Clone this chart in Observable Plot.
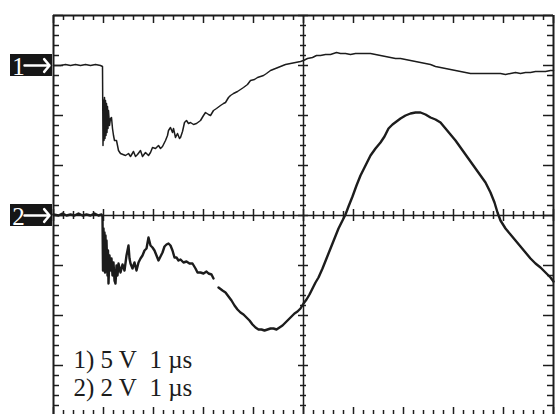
<!DOCTYPE html>
<html>
<head>
<meta charset="utf-8">
<script src="https://cdn.jsdelivr.net/npm/d3@7"></script>
<script src="https://cdn.jsdelivr.net/npm/@observablehq/plot@0.6"></script>
<style>
  html, body { margin: 0; padding: 0; background: #fff; }
  #chart svg { display: block; }
</style>
</head>
<body>
<div id="chart"></div>
<script>
// ---- Data (time in µs, voltage in V relative to each channel's ground) ----
const ch1Time = [0.00,0.14,0.24,0.34,0.44,0.54,0.64,0.74,0.84,0.94,0.98,0.99,1.00,1.01,1.02,1.03,1.04,1.05,1.06,1.07,1.08,1.09,1.10,1.12,1.14,1.16,1.18,1.20,1.22,1.26,1.30,1.34,1.44,1.50,1.54,1.60,1.64,1.68,1.74,1.78,1.84,1.90,1.94,1.98,2.04,2.10,2.14,2.18,2.24,2.28,2.30,2.34,2.38,2.40,2.44,2.48,2.52,2.54,2.58,2.62,2.66,2.70,2.74,2.80,2.86,2.94,3.00,3.04,3.10,3.14,3.20,3.26,3.34,3.40,3.44,3.50,3.54,3.60,3.68,3.74,3.80,3.88,3.94,4.02,4.08,4.14,4.20,4.26,4.34,4.44,4.54,4.64,4.74,4.84,4.94,5.00,5.08,5.18,5.26,5.34,5.44,5.54,5.60,5.66,5.74,5.84,5.94,6.04,6.14,6.24,6.34,6.44,6.54,6.64,6.74,6.84,6.94,7.04,7.14,7.24,7.34,7.44,7.54,7.64,7.74,7.84,7.94,8.04,8.14,8.24,8.34,8.54,8.74,8.94,9.04,9.14,9.24,9.34,9.44,9.54,9.64,9.74,9.84,9.94,10.00];
const ch1Volts = [0.0,0.0,0.1,0.0,0.1,0.0,0.1,0.0,0.1,0.0,-0.1,-8.0,-3.5,-7.5,-3.2,-7.3,-3.5,-7.0,-3.8,-6.7,-4.1,-6.3,-4.5,-6.0,-5.3,-5.2,-6.3,-7.0,-7.5,-7.5,-8.5,-8.8,-9.0,-8.8,-9.1,-8.6,-9.1,-8.9,-8.5,-9.1,-8.7,-9.0,-8.7,-8.2,-8.3,-8.0,-8.3,-8.1,-7.5,-7.0,-6.5,-6.2,-6.7,-6.3,-7.2,-6.8,-7.3,-7.2,-6.6,-5.7,-5.5,-5.8,-5.7,-5.9,-5.8,-5.5,-5.0,-4.7,-4.9,-5.0,-4.5,-4.3,-4.0,-3.8,-3.7,-3.2,-3.0,-2.8,-2.6,-2.4,-2.2,-1.9,-1.5,-1.4,-1.2,-1.1,-1.0,-0.8,-0.5,-0.3,-0.1,0.1,0.2,0.3,0.4,0.5,0.7,0.8,1.0,1.0,1.1,1.1,1.2,1.3,1.2,1.2,1.1,1.2,1.2,1.2,1.2,1.1,1.0,0.9,0.8,0.7,0.7,0.6,0.5,0.4,0.3,0.2,0.1,-0.1,-0.2,-0.3,-0.4,-0.5,-0.6,-0.7,-0.8,-0.8,-0.8,-0.8,-0.9,-0.8,-0.7,-0.8,-0.7,-0.7,-0.6,-0.6,-0.6,-0.5,-0.5];

const ch2Time = [0.00,0.10,0.18,0.26,0.34,0.42,0.50,0.58,0.66,0.74,0.82,0.90,0.96,0.98,0.99,1.00,1.01,1.02,1.03,1.04,1.05,1.06,1.08,1.09,1.10,1.12,1.14,1.16,1.18,1.20,1.22,1.24,1.26,1.28,1.30,1.34,1.38,1.42,1.46,1.48,1.50,1.52,1.54,1.58,1.62,1.66,1.70,1.74,1.78,1.82,1.86,1.90,1.94,1.98,2.02,2.06,2.10,2.14,2.18,2.22,2.26,2.30,2.34,2.38,2.42,2.46,2.50,2.54,2.60,2.66,2.72,2.78,2.84,2.88,2.94,3.00,3.06,3.10,3.16,3.20,3.25,3.30,3.38,3.44,3.50,3.56,3.62,3.68,3.74,3.80,3.86,3.92,3.98,4.04,4.10,4.16,4.22,4.28,4.34,4.40,4.46,4.52,4.58,4.64,4.70,4.76,4.82,4.88,4.94,5.00,5.06,5.12,5.18,5.24,5.30,5.38,5.46,5.54,5.62,5.70,5.78,5.84,5.90,5.98,6.06,6.14,6.24,6.34,6.44,6.54,6.62,6.70,6.78,6.86,6.94,7.04,7.14,7.24,7.34,7.44,7.54,7.64,7.74,7.84,7.94,8.04,8.14,8.24,8.34,8.44,8.54,8.64,8.74,8.82,8.88,8.94,9.04,9.14,9.24,9.34,9.44,9.54,9.64,9.74,9.84,9.94,10.00];
const ch2Volts = [0.04,0.00,0.08,0.00,0.04,0.00,0.08,0.00,0.04,0.00,0.08,0.00,0.04,-0.04,-2.20,-0.52,-2.12,-0.68,-2.28,-0.80,-2.20,-1.00,-2.40,-1.40,-2.72,-1.60,-2.20,-1.72,-2.40,-1.88,-2.60,-2.72,-2.00,-2.40,-1.92,-2.28,-1.96,-2.20,-1.60,-1.40,-1.20,-1.72,-1.92,-2.12,-1.88,-2.20,-1.88,-1.72,-1.60,-1.40,-1.32,-0.88,-1.20,-1.28,-1.40,-1.60,-1.80,-1.64,-1.48,-1.24,-1.16,-1.12,-1.20,-1.40,-1.68,-1.68,-1.80,-1.76,-1.88,-1.84,-1.92,-1.92,-2.12,-2.28,-2.28,-2.32,-2.24,-2.32,-2.36,-2.52,null,-2.88,-3.00,-3.08,-3.24,-3.40,-3.60,-3.76,-3.88,-3.96,-4.08,-4.20,-4.36,-4.48,-4.56,-4.56,-4.60,-4.56,-4.52,-4.52,-4.56,-4.48,-4.40,-4.28,-4.16,-4.04,-3.92,-3.84,-3.72,-3.52,-3.36,-3.16,-2.92,-2.68,-2.48,-2.12,-1.72,-1.32,-0.92,-0.52,-0.20,0.04,0.36,0.76,1.20,1.60,2.00,2.40,2.68,2.92,3.16,3.48,3.64,3.76,3.88,4.00,4.08,4.12,4.12,4.04,3.92,3.84,3.72,3.48,3.24,3.00,2.72,2.44,2.16,1.88,1.60,1.32,0.92,0.52,0.12,-0.20,-0.52,-0.76,-1.00,-1.24,-1.48,-1.72,-1.92,-2.08,-2.28,-2.48,-2.64];

const channelNames = ["1", "2"];
const voltsPerDiv = [5, 2];
const groundDiv = [3, 0];      // ground marker level in screen divisions from centre
const scaleLabels = ["1) 5 V\u00a0\u00a01 µs", "2) 2 V\u00a0\u00a01 µs"];

// ---- Screen geometry (divisions) ----
const xDivs = 10, yDivs = 8, minorStep = 0.2;
const px = 1 / 50; // one pixel in divisions

const toDiv = (ch, v) => (v == null ? NaN : groundDiv[ch] + v / voltsPerDiv[ch]);
const trace1 = ch1Time.map((t, i) => ({t, y: toDiv(0, ch1Volts[i])}));
const trace2 = ch2Time.map((t, i) => ({t, y: toDiv(1, ch2Volts[i])}));

const xAll = d3.range(0, xDivs + 1e-9, minorStep).map(d => +d.toFixed(2));
const yAll = d3.range(-yDivs / 2, yDivs / 2 + 1e-9, minorStep).map(d => +d.toFixed(2));
const isMajor = d => Math.abs(d - Math.round(d)) < 1e-6;
const xMin = xAll.filter(d => !isMajor(d)), xMaj = xAll.filter(isMajor);
const yMin = yAll.filter(d => !isMajor(d)), yMaj = yAll.filter(isMajor);

const ink = "#1c1c1c";
const serif = "'Liberation Serif', 'Times New Roman', serif";
const yTop = yDivs / 2, yBot = -yDivs / 2, xMid = xDivs / 2;

const chart = Plot.plot({
  width: 555,
  height: 414,
  marginLeft: 53,
  marginRight: 2,
  marginTop: 15,
  marginBottom: 0,
  x: {domain: [0, xDivs], axis: null},
  y: {domain: [yBot + 1 * px, yTop], axis: null},
  style: {background: "#fff", overflow: "visible"},
  marks: [
    // border (top, left, right)
    Plot.ruleY([yTop], {stroke: ink, strokeWidth: 2}),
    Plot.ruleX([0, xDivs], {stroke: ink, strokeWidth: 2}),
    // centre graticule lines
    Plot.ruleX([xMid], {stroke: ink, strokeWidth: 1.5}),
    Plot.ruleY([0], {stroke: ink, strokeWidth: 1.5}),
    // border ticks: top / bottom
    Plot.ruleX(xMin, {x: d => d, y1: yTop, y2: yTop - 5 * px, stroke: ink, strokeWidth: 1.5}),
    Plot.ruleX(xMaj, {x: d => d, y1: yTop, y2: yTop - 8 * px, stroke: ink, strokeWidth: 1.5}),
    Plot.ruleX(xMin, {x: d => d, y1: yBot, y2: yBot + 5 * px, stroke: ink, strokeWidth: 1.5}),
    Plot.ruleX(xMaj, {x: d => d, y1: yBot, y2: yBot + 8 * px, stroke: ink, strokeWidth: 1.5}),
    // border ticks: left / right
    Plot.ruleY(yMin, {y: d => d, x1: 0, x2: 6 * px, stroke: ink, strokeWidth: 1.5}),
    Plot.ruleY(yMaj, {y: d => d, x1: 0, x2: 10 * px, stroke: ink, strokeWidth: 1.5}),
    Plot.ruleY(yMin, {y: d => d, x1: xDivs, x2: xDivs - 6 * px, stroke: ink, strokeWidth: 1.5}),
    Plot.ruleY(yMaj, {y: d => d, x1: xDivs, x2: xDivs - 10 * px, stroke: ink, strokeWidth: 1.5}),
    // centre line ticks
    Plot.ruleX(xMin, {x: d => d, y1: -4 * px, y2: 4 * px, stroke: ink, strokeWidth: 1.5}),
    Plot.ruleX(xMaj, {x: d => d, y1: -6 * px, y2: 6 * px, stroke: ink, strokeWidth: 1.5}),
    Plot.ruleY(yMin, {y: d => d, x1: xMid - 3 * px, x2: xMid + 3 * px, stroke: ink, strokeWidth: 1.5}),
    Plot.ruleY(yMaj, {y: d => d, x1: xMid - 5 * px, x2: xMid + 5 * px, stroke: ink, strokeWidth: 1.5}),
    // traces
    Plot.line(trace1, {x: "t", y: "y", stroke: ink, strokeWidth: 1.5, curve: "linear"}),
    Plot.line(trace2, {x: "t", y: "y", stroke: ink, strokeWidth: 2.4, curve: "linear"}),
    // channel ground markers
    Plot.rect(channelNames, {
      x1: -43 * px, x2: -1 * px,
      y1: (d, i) => groundDiv[i] - 11 * px, y2: (d, i) => groundDiv[i] + 11 * px,
      fill: "#161616"
    }),
    Plot.text(channelNames, {
      x: -35 * px, y: (d, i) => groundDiv[i],
      text: d => d,
      fill: "#fff", fontSize: 25, fontFamily: serif, textAnchor: "middle", dy: 1
    }),
    Plot.arrow(channelNames, {
      x1: -29 * px, x2: -4 * px,
      y1: (d, i) => groundDiv[i], y2: (d, i) => groundDiv[i],
      stroke: "#fff", strokeWidth: 2.5, headAngle: 100, headLength: 8
    }),
    // scale labels
    Plot.text(scaleLabels, {
      x: 20 * px, y: (d, i) => -2.88 - i * 0.56,
      text: d => d,
      fill: ink, fontSize: 25, fontFamily: serif, textAnchor: "start"
    })
  ]
});
document.getElementById("chart").appendChild(chart);
</script>
</body>
</html>
